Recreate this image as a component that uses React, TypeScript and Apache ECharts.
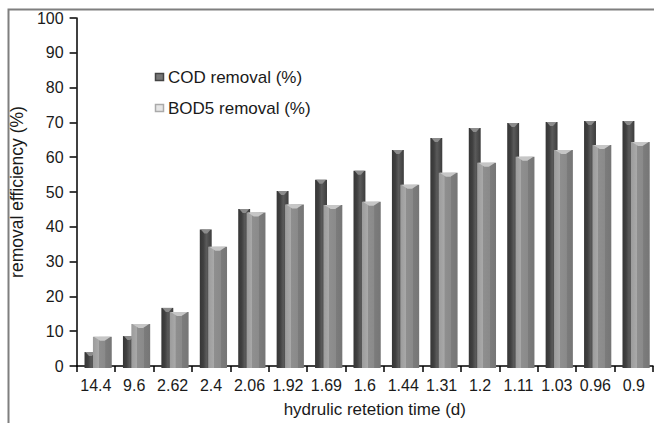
import React, { useEffect, useRef } from "react";
import * as echarts from "echarts";

const categories = ["14.4", "9.6", "2.62", "2.4", "2.06", "1.92", "1.69", "1.6", "1.44", "1.31", "1.2", "1.11", "1.03", "0.96", "0.9"];
const codRemoval = [4.0, 8.6, 16.7, 39.2, 45.1, 50.3, 53.5, 56.1, 62.1, 65.5, 68.4, 69.8, 70.1, 70.4, 70.4];
const bodRemoval = [8.4, 12.1, 15.5, 34.3, 44.1, 46.4, 46.3, 47.2, 52.1, 55.5, 58.4, 60.1, 62.1, 63.5, 64.4];
const yTicks = { min: 0, max: 100, interval: 10 };

const FONT = "Liberation Sans, Arial, sans-serif";

function makeRender(offsetFrac: number, widthFrac: number, stops: any[], capColor: string) {
  return (params: any, api: any) => {
    const idx = api.value(0);
    const val = api.value(1);
    const top = api.coord([idx, val]);
    const base = api.coord([idx, 0]);
    const bw = api.size([1, 0])[0];
    const x = top[0] + offsetFrac * bw;
    const w = widthFrac * bw;
    const h = base[1] - top[1] + 2;
    return {
      type: "group",
      children: [
        {
          type: "rect",
          shape: { x, y: top[1], width: w, height: h },
          style: { fill: new echarts.graphic.LinearGradient(0, 0, 1, 0, stops) },
        },
        {
          type: "polygon",
          shape: {
            points: [
              [x + 1, top[1]],
              [x + w - 1, top[1]],
              [x + w * 0.62, top[1] + 4],
              [x + w * 0.38, top[1] + 4],
            ],
          },
          style: { fill: capColor },
        },
      ],
    };
  };
}

export default function App() {
  const ref = useRef<HTMLDivElement>(null);
  useEffect(() => {
    if (!ref.current) return;
    const chart = echarts.init(ref.current, null, { renderer: "svg" });
    const codStops = [
      { offset: 0, color: "#363636" },
      { offset: 0.3, color: "#404040" },
      { offset: 0.55, color: "#5a5a5a" },
      { offset: 0.8, color: "#4a4a4a" },
      { offset: 1, color: "#3c3c3c" },
    ];
    const bodStops = [
      { offset: 0, color: "#9c9c9c" },
      { offset: 0.3, color: "#a9a9a9" },
      { offset: 0.31, color: "#8f8f8f" },
      { offset: 0.66, color: "#8a8a8a" },
      { offset: 0.67, color: "#7c7c7c" },
      { offset: 1, color: "#767676" },
    ];
    chart.setOption({
      animation: false,
      textStyle: { fontFamily: FONT },
      grid: { left: 71, right: 1, top: 18, bottom: 55 },
      xAxis: {
        type: "category",
        data: categories,
        boundaryGap: true,
        name: "hydrulic retetion time (d)",
        nameLocation: "middle",
        nameGap: 35,
        nameTextStyle: { fontSize: 17, color: "#1a1a1a", fontFamily: FONT, padding: [0, 0, 0, 20] },
        axisLine: { show: true, lineStyle: { color: "#000", width: 1.5 } },
        axisTick: { show: true, length: 6, lineStyle: { color: "#000", width: 1.5 } },
        axisLabel: { fontSize: 16, color: "#1a1a1a", margin: 11, fontFamily: FONT, interval: 0 },
        splitLine: { show: false },
      },
      yAxis: {
        type: "value",
        min: yTicks.min,
        max: yTicks.max,
        interval: yTicks.interval,
        name: "removal efficiency (%)",
        nameLocation: "middle",
        nameGap: 46,
        nameTextStyle: { fontSize: 17.5, color: "#1a1a1a", fontFamily: FONT },
        axisLine: { show: true, lineStyle: { color: "#000", width: 1.5 } },
        axisTick: { show: true, length: 7, lineStyle: { color: "#000", width: 1.5 } },
        axisLabel: { fontSize: 16, color: "#1a1a1a", margin: 13, fontFamily: FONT },
        splitLine: { show: false },
      },
      series: [
        {
          name: "COD removal (%)",
          type: "custom",
          renderItem: makeRender(-0.294, 0.31, codStops, "#8c8c8c"),
          data: codRemoval.map((v, i) => [i, v]),
          encode: { x: 0, y: 1 },
        },
        {
          name: "BOD5 removal (%)",
          type: "custom",
          renderItem: makeRender(-0.075, 0.49, bodStops, "#c6c6c6"),
          data: bodRemoval.map((v, i) => [i, v]),
          encode: { x: 0, y: 1 },
        },
      ],
      graphic: [
        {
          type: "polyline",
          shape: { points: [[8.5, 423], [8.5, 9.5], [654, 9.5]] },
          style: { stroke: "#7f7f7f", lineWidth: 2, fill: null },
        },
        {
          type: "rect",
          shape: { x: 155.5, y: 73.5, width: 8, height: 7 },
          style: { fill: "#777", stroke: "#444", lineWidth: 1.5 },
        },
        {
          type: "text",
          x: 168,
          y: 77,
          style: { text: "COD removal (%)", fontSize: 17, fill: "#1a1a1a", fontFamily: FONT, verticalAlign: "middle" },
        },
        {
          type: "rect",
          shape: { x: 155.5, y: 104.5, width: 8, height: 7 },
          style: { fill: "#e6e6e6", stroke: "#aaa", lineWidth: 1.5 },
        },
        {
          type: "text",
          x: 168,
          y: 108,
          style: { text: "BOD5 removal (%)", fontSize: 17, fill: "#1a1a1a", fontFamily: FONT, verticalAlign: "middle" },
        },
      ],
    });
    return () => chart.dispose();
  }, []);
  return <div ref={ref} style={{ position: "absolute", left: 0, top: 0, width: 654, height: 423 }} />;
}
